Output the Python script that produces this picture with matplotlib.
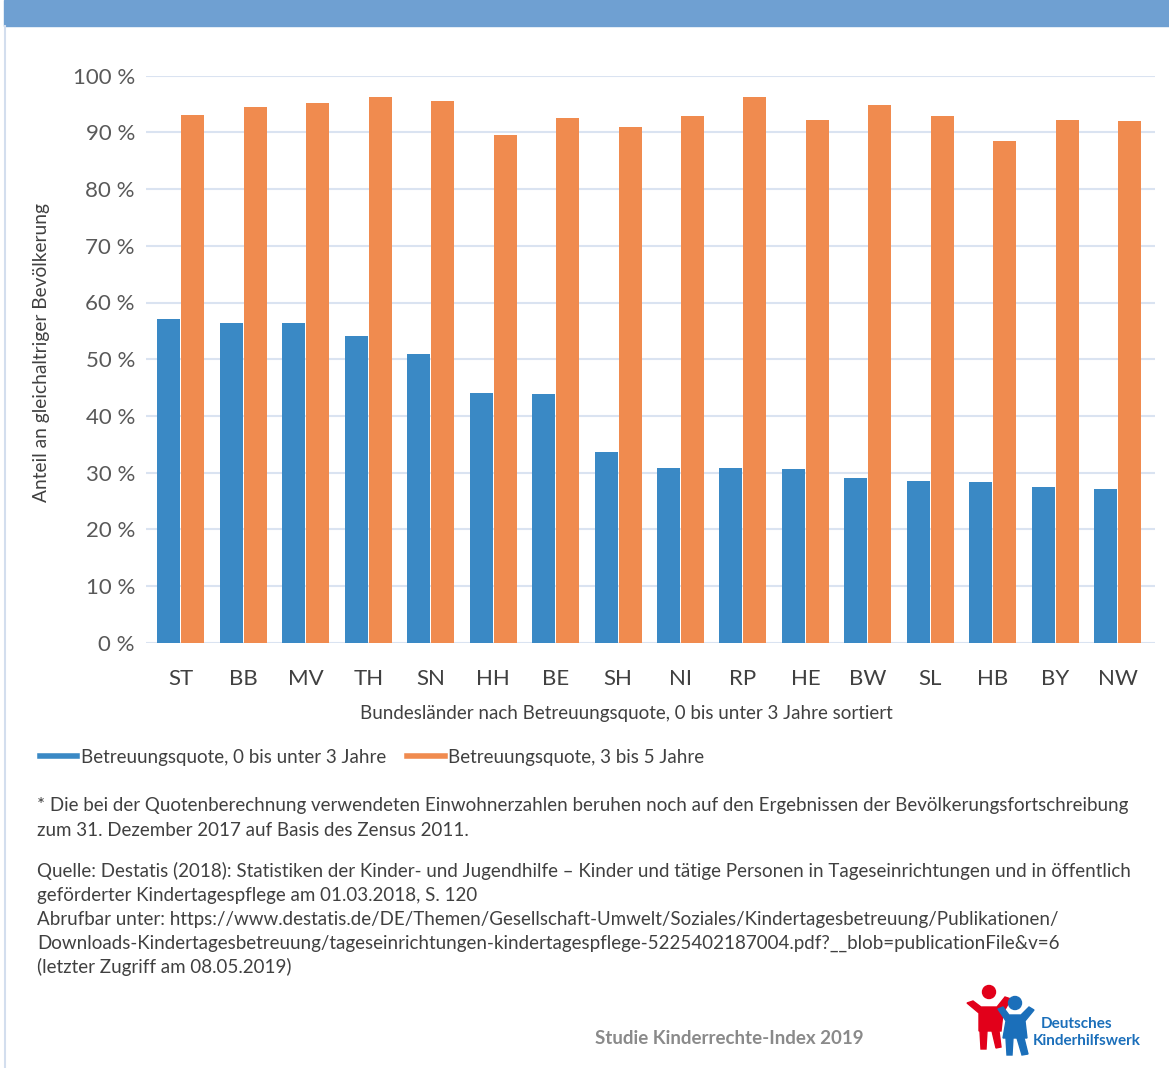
import numpy as np
import matplotlib.pyplot as plt
from matplotlib.lines import Line2D
from matplotlib.patches import Rectangle, Circle, Polygon

plt.rcParams['font.family'] = ['Lato', 'DejaVu Sans']

laender = ['ST', 'BB', 'MV', 'TH', 'SN', 'HH', 'BE', 'SH',
           'NI', 'RP', 'HE', 'BW', 'SL', 'HB', 'BY', 'NW']
quote_u3 = [57.1, 56.4, 56.4, 54.1, 50.9, 44.0, 43.9, 33.6,
            30.8, 30.8, 30.6, 29.0, 28.5, 28.3, 27.4, 27.1]
quote_3_5 = [93.1, 94.4, 95.1, 96.2, 95.5, 89.5, 92.6, 91.0,
             92.9, 96.2, 92.2, 94.9, 92.9, 88.5, 92.2, 92.0]
y_ticks = [0, 10, 20, 30, 40, 50, 60, 70, 80, 90, 100]

label_u3 = 'Betreuungsquote, 0 bis unter 3 Jahre'
label_3_5 = 'Betreuungsquote, 3 bis 5 Jahre'

fussnote = ['* Die bei der Quotenberechnung verwendeten Einwohnerzahlen beruhen noch auf den Ergebnissen der Bevölkerungsfortschreibung',
            'zum 31. Dezember 2017 auf Basis des Zensus 2011.']
quelle = ['Quelle: Destatis (2018): Statistiken der Kinder- und Jugendhilfe – Kinder und tätige Personen in Tageseinrichtungen und in öffentlich',
          'geförderter Kindertagespflege am 01.03.2018, S. 120',
          'Abrufbar unter: https://www.destatis.de/DE/Themen/Gesellschaft-Umwelt/Soziales/Kindertagesbetreuung/Publikationen/',
          'Downloads-Kindertagesbetreuung/tageseinrichtungen-kindertagespflege-5225402187004.pdf?__blob=publicationFile&v=6',
          '(letzter Zugriff am 08.05.2019)']

BLUE = '#3a89c5'
ORANGE = '#f08b4f'
GRID = '#dae3f1'
TEXT = '#404040'
FS = 13.5

W, H = 1169, 1068
fig = plt.figure(figsize=(W / 100, H / 100), dpi=100)


def fx(px):
    return px / W


def fy(py):
    return 1 - py / H


# header band and left border
fig.patches.append(Rectangle((fx(4), fy(26)), 1, 26 / H, transform=fig.transFigure,
                             color='#6fa0d2', zorder=0))
fig.add_artist(Line2D([fx(5), fx(5)], [0, fy(26)], color='#d3deee', lw=1.5))

ax = fig.add_axes([fx(146), fy(642.7), fx(1155 - 146), (642.7 - 75.7) / H])
x = np.arange(len(laender))
bw = 0.368
ax.bar(x - 0.192, quote_u3, bw, color=BLUE, label=label_u3, zorder=3)
ax.bar(x + 0.192, quote_3_5, bw, color=ORANGE, label=label_3_5, zorder=3)

ax.set_ylim(0, 100)
ax.set_xlim(-0.56, 15.6)
ax.set_yticks(y_ticks)
ax.set_yticklabels([f'{v} %' for v in y_ticks], fontsize=16, color='#595959')
ax.set_xticks(x)
ax.set_xticklabels(laender, fontsize=16, color=TEXT)
ax.tick_params(length=0)
ax.tick_params(axis='y', pad=8)
ax.tick_params(axis='x', pad=19)
ax.grid(axis='y', color=GRID, lw=1.5, zorder=0)
for s in ax.spines.values():
    s.set_visible(False)

fig.text(fx(42), fy(353), 'Anteil an gleichaltriger Bevölkerung', rotation=90,
         ha='center', va='center', fontsize=13.8, color=TEXT)
fig.text(fx(626), fy(713), 'Bundesländer nach Betreuungsquote, 0 bis unter 3 Jahre sortiert',
         ha='center', va='center', fontsize=FS, color=TEXT)

handles = [Line2D([], [], color=BLUE, lw=4), Line2D([], [], color=ORANGE, lw=4)]
fig.legend(handles, [label_u3, label_3_5], loc='center left',
           bbox_to_anchor=(fx(23), fy(757)), ncol=2, frameon=False,
           fontsize=FS, handlelength=2.0, handletextpad=0.2,
           columnspacing=1.1, labelcolor=TEXT)

for i, line in enumerate(fussnote):
    fig.text(fx(37), fy(806 + 24 * i), line, ha='left', va='center',
             fontsize=FS, color=TEXT)
for i, line in enumerate(quelle):
    fig.text(fx(37), fy(871 + 24 * i), line, ha='left', va='center',
             fontsize=FS, color=TEXT)

fig.text(fx(729), fy(1038), 'Studie Kinderrechte-Index 2019', ha='center', va='center',
         fontsize=13.5, fontweight='bold', color='#8a8a8a')

# logo: two waving figures plus lettering
lg = fig.add_axes([fx(965), fy(1058), fx(70), 75 / H])
lg.set_xlim(0, 70)
lg.set_ylim(75, 0)
lg.axis('off')
red, lblue = '#e2001a', '#1b6fba'
lg.add_patch(Circle((24, 9), 6.5, color=red))
lg.add_patch(Polygon([[2, 20], [8, 18], [16, 24], [32, 24], [40, 14], [46, 16],
                      [38, 30], [36, 48], [14, 48], [14, 30]], color=red))
lg.add_patch(Polygon([[15, 48], [22, 48], [21, 66], [16, 66]], color=red))
lg.add_patch(Polygon([[27, 48], [34, 48], [36, 64], [31, 65]], color=red))
lg.add_patch(Circle((50, 20), 6.5, color=lblue))
lg.add_patch(Polygon([[33, 26], [38, 24], [44, 32], [56, 32], [64, 24], [69, 27],
                      [60, 38], [62, 55], [38, 55], [41, 38]], color=lblue))
lg.add_patch(Polygon([[41, 55], [48, 55], [47, 72], [42, 72]], color=lblue))
lg.add_patch(Polygon([[52, 55], [59, 55], [63, 71], [57, 72]], color=lblue))
fig.text(fx(1041), fy(1024), 'Deutsches', ha='left', va='center', fontsize=11,
         fontweight='bold', color=lblue)
fig.text(fx(1033), fy(1041), 'Kinderhilfswerk', ha='left', va='center', fontsize=11,
         fontweight='bold', color=lblue)

fig.savefig('out.png', dpi=100)
